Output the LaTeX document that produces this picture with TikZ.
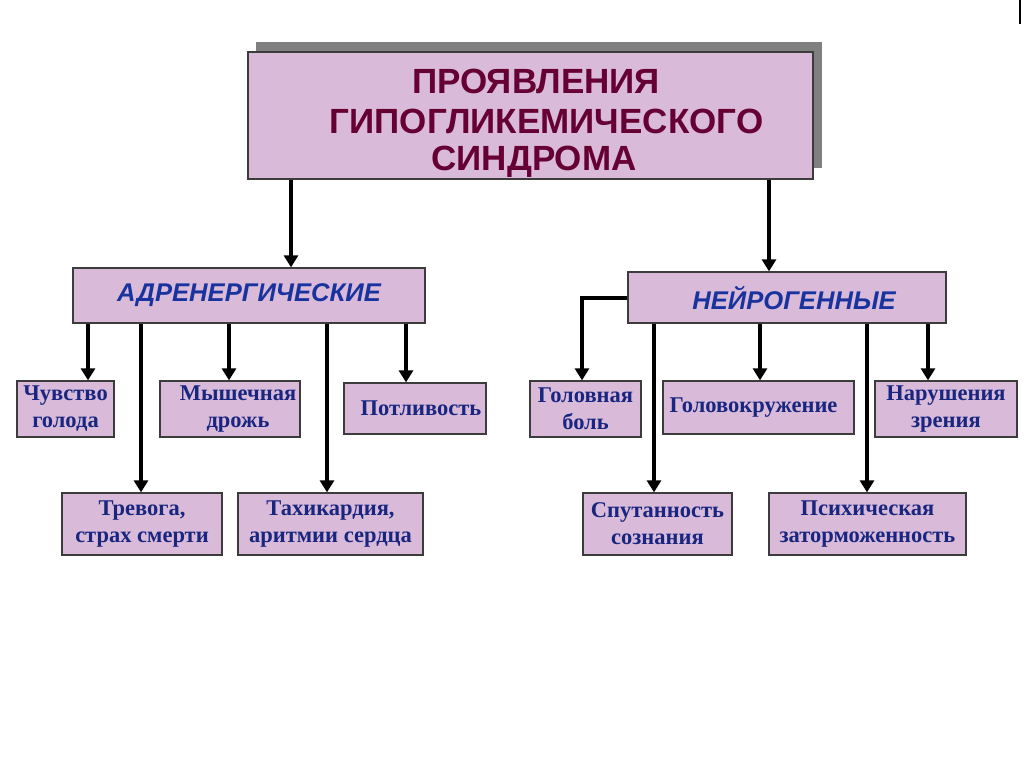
\documentclass[tikz,border=0pt]{standalone}
\usepackage{fontspec}
\setmainfont{Liberation Serif}
\newfontfamily\sansf{Liberation Sans}
\usetikzlibrary{arrows.meta}
\definecolor{boxfill}{RGB}{218,186,217}
\definecolor{boxline}{RGB}{60,60,60}
\definecolor{shadowgray}{RGB}{128,128,128}
\definecolor{titletext}{RGB}{102,0,51}
\definecolor{cattext}{RGB}{24,50,158}
\definecolor{leaftext}{RGB}{24,38,128}
\begin{document}
\begin{tikzpicture}[x=1pt,y=-1pt,
  box/.style={draw=boxline,line width=1.3pt,fill=boxfill,inner sep=0pt,align=center},
  titlebox/.style={box},
  shadowbox/.style={fill=shadowgray,inner sep=0pt},
  titleline/.style={font=\sansf\bfseries\fontsize{35}{40}\selectfont,text=titletext,inner sep=0pt},
  catbox/.style={box,font=\sansf\bfseries\itshape\fontsize{25.6}{30}\selectfont,text=cattext},
  leaf/.style={box,font=\bfseries\fontsize{22.5}{27}\selectfont,text=leaftext},
  arr/.style={line width=4.3pt,-{Triangle[width=14pt,length=12pt]}},
]
\useasboundingbox (0,0) rectangle (1024,767);
\fill[white] (0,0) rectangle (1024,767);
\draw[line width=1.3pt] (1020,0) -- (1020,24);

% title
\node[shadowbox,minimum width=566,minimum height=126] (shadow) at (539,105) {};
\node[titlebox,minimum width=565,minimum height=127] (title) at (530.5,115.5) {};
\node[titleline] (t1) at (536,81) {ПРОЯВЛЕНИЯ};
\node[titleline] (t2) at (546.5,121.5) {ГИПОГЛИКЕМИЧЕСКОГО};
\node[titleline] (t3) at (534,161.5) {СИНДРОМА};

% categories
\node[catbox,minimum width=352,minimum height=55] (adr) at (249,295.5) {АДРЕНЕРГИЧЕСКИЕ};
\node[catbox,minimum width=318,minimum height=51] (neur) at (787,297.5) {\hspace*{14pt}НЕЙРОГЕННЫЕ};

% left leaves
\node[leaf,minimum width=97,minimum height=56] (chuv) at (65.5,409) {Чувство\\голода};
\node[leaf,minimum width=140,minimum height=56] (mysh) at (230,409) {\hspace*{16pt}Мышечная\\\hspace*{16pt}дрожь};
\node[leaf,minimum width=142,minimum height=51] (potl) at (415,408.5) {\hspace*{12pt}Потливость};
\node[leaf,minimum width=160,minimum height=62] (trev) at (142,524) {Тревога,\\страх смерти};
\node[leaf,minimum width=185,minimum height=62] (tahi) at (330.5,524) {Тахикардия,\\аритмии сердца};

% right leaves
\node[leaf,minimum width=111,minimum height=56] (golb) at (585.5,409) {Головная\\боль};
\node[leaf,minimum width=191,minimum height=53] (golk) at (758.5,407.5) {Головокружение\hspace*{10pt}};
\node[leaf,minimum width=142,minimum height=56] (naru) at (946,409) {Нарушения\\зрения};
\node[leaf,minimum width=149,minimum height=62] (sput) at (657.5,524) {Спутанность\\сознания};
\node[leaf,minimum width=197,minimum height=62] (psih) at (867.5,524) {Психическая\\заторможенность};

% connectors from title
\draw[arr] (291,0 |- title.south) -- (291,0 |- adr.north);
\draw[arr] (769,0 |- title.south) -- (769,0 |- neur.north);

% connectors from adrenergic
\draw[arr] (88,0 |- adr.south) -- (88,0 |- chuv.north);
\draw[arr] (141,0 |- adr.south) -- (141,0 |- trev.north);
\draw[arr] (229,0 |- adr.south) -- (229,0 |- mysh.north);
\draw[arr] (327,0 |- adr.south) -- (327,0 |- tahi.north);
\draw[arr] (406,0 |- adr.south) -- (406,0 |- potl.north);

% connectors from neurogenic
\draw[arr] (neur.west |- 0,298) -| (582,0 |- golb.north);
\draw[arr] (654,0 |- neur.south) -- (654,0 |- sput.north);
\draw[arr] (760,0 |- neur.south) -- (760,0 |- golk.north);
\draw[arr] (867,0 |- neur.south) -- (867,0 |- psih.north);
\draw[arr] (928,0 |- neur.south) -- (928,0 |- naru.north);
\end{tikzpicture}
\end{document}
